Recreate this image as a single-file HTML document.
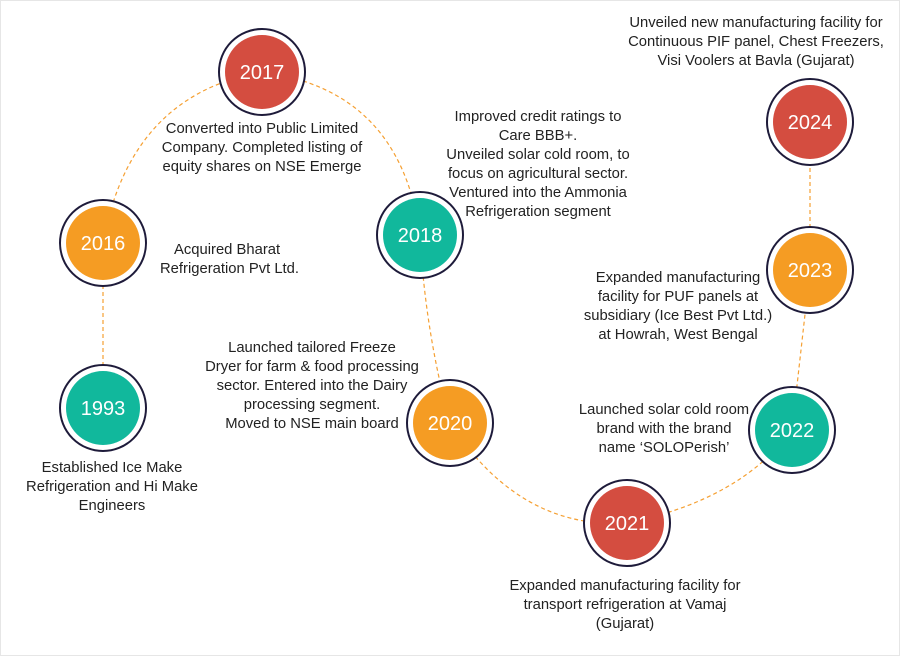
<!DOCTYPE html>
<html><head><meta charset="utf-8"><style>
html,body{margin:0;padding:0;background:#fff;}
svg{display:block;}
text{font-family:"Liberation Sans",sans-serif;}
.t{font-size:14.8px;fill:#222;}
.y{font-size:20px;fill:#fff;text-anchor:middle;}
</style></head><body>
<svg width="900" height="656" viewBox="0 0 900 656" xmlns="http://www.w3.org/2000/svg">
<rect x="0.5" y="0.5" width="899" height="655" fill="#fff" stroke="#e6e6e6"/>
<g fill="none" stroke="#f5a033" stroke-width="1.2" stroke-dasharray="4 3">
<path d="M103 408 L103 243"/>
<path d="M103 243 Q130 95 262 72"/>
<path d="M262 72 Q400 90 420 235"/>
<path d="M420 235 Q425 330 450 423"/>
<path d="M450 423 Q520 530 627 523"/>
<path d="M627 523 Q740 500 792 430"/>
<path d="M792 430 L810 270"/>
<path d="M810 270 L810 122"/>
</g>
<g stroke="#1e1b3a" stroke-width="2" fill="#fff">
<circle cx="262" cy="72" r="43"/><circle cx="103" cy="243" r="43"/><circle cx="103" cy="408" r="43"/>
<circle cx="420" cy="235" r="43"/><circle cx="450" cy="423" r="43"/><circle cx="627" cy="523" r="43"/>
<circle cx="792" cy="430" r="43"/><circle cx="810" cy="270" r="43"/><circle cx="810" cy="122" r="43"/>
</g>
<circle cx="262" cy="72" r="37" fill="#d44d40"/>
<circle cx="103" cy="243" r="37" fill="#f59c23"/>
<circle cx="103" cy="408" r="37" fill="#11b89c"/>
<circle cx="420" cy="235" r="37" fill="#11b89c"/>
<circle cx="450" cy="423" r="37" fill="#f59c23"/>
<circle cx="627" cy="523" r="37" fill="#d44d40"/>
<circle cx="792" cy="430" r="37" fill="#11b89c"/>
<circle cx="810" cy="270" r="37" fill="#f59c23"/>
<circle cx="810" cy="122" r="37" fill="#d44d40"/>
<text class="y" x="262" y="79">2017</text>
<text class="y" x="103" y="250">2016</text>
<text class="y" x="103" y="415">1993</text>
<text class="y" x="420" y="242">2018</text>
<text class="y" x="450" y="430">2020</text>
<text class="y" x="627" y="530">2021</text>
<text class="y" x="792" y="437">2022</text>
<text class="y" x="810" y="277">2023</text>
<text class="y" x="810" y="129">2024</text>
<g class="t" text-anchor="middle">
<text x="262" y="133">Converted into Public Limited</text>
<text x="262" y="152">Company. Completed listing of</text>
<text x="262" y="171">equity shares on NSE Emerge</text>
<text x="538" y="121">Improved credit ratings to</text>
<text x="538" y="140">Care BBB+.</text>
<text x="538" y="159">Unveiled solar cold room, to</text>
<text x="538" y="178">focus on agricultural sector.</text>
<text x="538" y="197">Ventured into the Ammonia</text>
<text x="538" y="216">Refrigeration segment</text>
<text x="756" y="27">Unveiled new manufacturing facility for</text>
<text x="756" y="46">Continuous PIF panel, Chest Freezers,</text>
<text x="756" y="65">Visi Voolers at Bavla (Gujarat)</text>
<text x="678" y="282">Expanded manufacturing</text>
<text x="678" y="301">facility for PUF panels at</text>
<text x="678" y="320">subsidiary (Ice Best Pvt Ltd.)</text>
<text x="678" y="339">at Howrah, West Bengal</text>
<text x="664" y="414">Launched solar cold room</text>
<text x="664" y="433">brand with the brand</text>
<text x="664" y="452">name ‘SOLOPerish’</text>
<text x="625" y="590">Expanded manufacturing facility for</text>
<text x="625" y="609">transport refrigeration at Vamaj</text>
<text x="625" y="628">(Gujarat)</text>
<text x="312" y="352">Launched tailored Freeze</text>
<text x="312" y="371">Dryer for farm &amp; food processing</text>
<text x="312" y="390">sector. Entered into the Dairy</text>
<text x="312" y="409">processing segment.</text>
<text x="312" y="428">Moved to NSE main board</text>
<text x="112" y="472">Established Ice Make</text>
<text x="112" y="491">Refrigeration and Hi Make</text>
<text x="112" y="510">Engineers</text>
</g>
<g class="t">
<text x="174" y="254">Acquired Bharat</text>
<text x="160" y="273">Refrigeration Pvt Ltd.</text>
</g>
</svg>
</body></html>
